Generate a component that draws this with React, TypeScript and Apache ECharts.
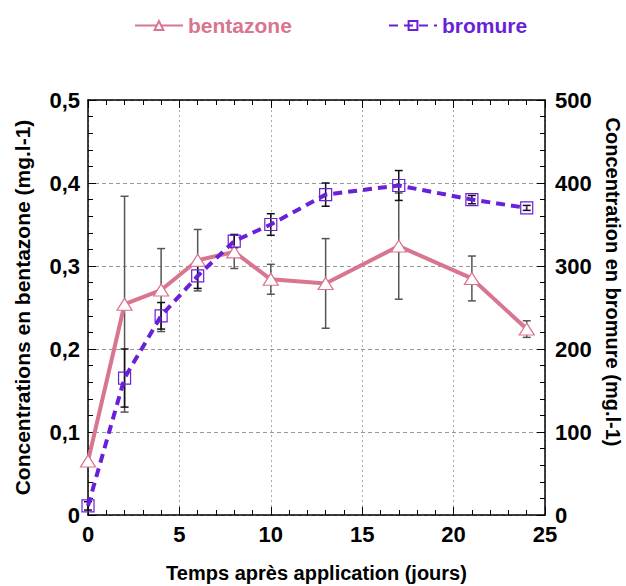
import React, { useEffect, useRef } from "react";
import * as echarts from "echarts";

const days = [0, 2, 4, 6, 8, 10, 13, 17, 21, 24];
const bentazone = [0.065, 0.254, 0.271, 0.307, 0.317, 0.284, 0.279, 0.324, 0.285, 0.224];
const bentazoneErr = [0, 0.13, 0.05, 0.037, 0.02, 0.018, 0.054, 0.064, 0.027, 0.01];
const bromure = [11, 165, 240, 288, 330, 350, 386, 397, 380, 370];
const bromureErr = [5, 35, 16, 15, 8, 13, 14, 18, 5, 3];

const PINK = "#d8758f";
const PURPLE = "#6a1fd9";
const FONT = "Liberation Sans, Arial, sans-serif";

function errorSeries(name: string, vals: number[], errs: number[], yAxisIndex: number, color: string) {
  const data = days.map((d, i) => [d, vals[i] - errs[i], vals[i] + errs[i]]);
  return {
    type: "custom",
    name,
    yAxisIndex,
    z: 1,
    silent: true,
    encode: { x: 0, y: [1, 2] },
    data,
    renderItem: (params: any, api: any) => {
      const x = api.value(0);
      const lo = api.coord([x, api.value(1)]);
      const hi = api.coord([x, api.value(2)]);
      const hw = 4;
      const st = { stroke: color, lineWidth: 1.5 };
      return {
        type: "group",
        children: [
          { type: "line", shape: { x1: lo[0], y1: lo[1], x2: hi[0], y2: hi[1] }, style: st },
          { type: "line", shape: { x1: lo[0] - hw, y1: lo[1], x2: lo[0] + hw, y2: lo[1] }, style: st },
          { type: "line", shape: { x1: hi[0] - hw, y1: hi[1], x2: hi[0] + hw, y2: hi[1] }, style: st },
        ],
      };
    },
  };
}

export default function App() {
  const ref = useRef<HTMLDivElement>(null);
  useEffect(() => {
    document.body.style.margin = "0";
    document.body.style.overflow = "hidden";
    if (!ref.current) return;
    const chart = echarts.init(ref.current, undefined, { renderer: "svg" });
    const tickLabel = { fontFamily: FONT, fontWeight: "bold", fontSize: 22, color: "#000" };
    const titleStyle = { fontFamily: FONT, fontWeight: "bold", fontSize: 21, color: "#000" };
    const hSplit = { show: true, lineStyle: { color: "#999", type: [4, 3], width: 1 } };
    const vSplit = { show: true, lineStyle: { color: "#aaa", type: [2, 3], width: 1 } };
    const axisLine = { show: true, onZero: false, lineStyle: { color: "#000", width: 1.5 } };
    const axisTick = { show: true, inside: true, length: 8, lineStyle: { color: "#000" } };
    const minorTick = { show: true, splitNumber: 5, length: 5, lineStyle: { color: "#000" } };
    chart.setOption({
      animation: false,
      backgroundColor: "#fff",
      legend: [
        {
          left: 134,
          top: 15,
          padding: 0,
          itemWidth: 48,
          itemHeight: 11,
          data: [{ name: "bentazone", textStyle: { color: PINK } }],
          textStyle: { fontFamily: FONT, fontWeight: "bold", fontSize: 21 },
        },
        {
          left: 388,
          top: 15,
          padding: 0,
          itemWidth: 48,
          itemHeight: 11,
          data: [{ name: "bromure", textStyle: { color: PURPLE } }],
          textStyle: { fontFamily: FONT, fontWeight: "bold", fontSize: 21 },
        },
      ],
      graphic: [
        {
          type: "text",
          x: 613,
          y: 282,
          rotation: -Math.PI / 2,
          style: {
            text: "Concentration en bromure (mg.l-1)",
            fontFamily: FONT,
            fontWeight: "bold",
            fontSize: 20,
            fill: "#000",
            align: "center",
            verticalAlign: "middle",
          },
        },
      ],
      grid: { left: 88, right: 81, top: 100, bottom: 71, containLabel: false, outerBoundsMode: "none" },
      xAxis: [
        {
          type: "value",
          min: 0,
          max: 25,
          interval: 5,
          position: "bottom",
          name: "Temps après application (jours)",
          nameLocation: "middle",
          nameGap: 48,
          nameTextStyle: { ...titleStyle, fontSize: 20 },
          axisLine,
          axisTick,
          minorTick,
          axisLabel: { ...tickLabel, margin: 8 },
          splitLine: vSplit,
        },
        {
          type: "value",
          min: 0,
          max: 25,
          interval: 5,
          position: "top",
          axisLine,
          axisTick,
          minorTick,
          axisLabel: { show: false },
          splitLine: { show: false },
        },
      ],
      yAxis: [
        {
          type: "value",
          min: 0,
          max: 0.5,
          interval: 0.1,
          position: "left",
          name: "Concentrations en bentazone (mg.l-1)",
          nameLocation: "middle",
          nameRotate: 90,
          nameGap: 55,
          nameTextStyle: titleStyle,
          axisLine,
          axisTick,
          minorTick,
          axisLabel: {
            ...tickLabel,
            margin: 8,
            formatter: (v: number) => (v === 0 ? "0" : v.toFixed(1).replace(".", ",")),
          },
          splitLine: hSplit,
        },
        {
          type: "value",
          min: 0,
          max: 500,
          interval: 100,
          position: "right",
          axisLine,
          axisTick,
          minorTick,
          axisLabel: { ...tickLabel, margin: 10 },
          splitLine: { show: false },
        },
      ],
      series: [
        errorSeries("bentazone-err", bentazone, bentazoneErr, 0, "#555"),
        errorSeries("bromure-err", bromure, bromureErr, 1, "#111"),
        {
          type: "line",
          name: "bentazone",
          yAxisIndex: 0,
          z: 3,
          data: days.map((d, i) => [d, bentazone[i]]),
          symbol: "triangle",
          symbolSize: [15, 12],
          itemStyle: { color: "#fff", borderColor: PINK, borderWidth: 1.2 },
          lineStyle: { color: PINK, width: 4 },
        },
        {
          type: "line",
          name: "bromure",
          yAxisIndex: 1,
          z: 4,
          data: days.map((d, i) => [d, bromure[i]]),
          symbol: "rect",
          symbolSize: 12,
          itemStyle: { color: "rgba(255,255,255,0)", borderColor: PURPLE, borderWidth: 1.2 },
          lineStyle: { color: PURPLE, width: 4, type: [9, 6] },
        },
      ],
    });
    return () => chart.dispose();
  }, []);
  return <div ref={ref} style={{ width: 626, height: 586 }} />;
}
